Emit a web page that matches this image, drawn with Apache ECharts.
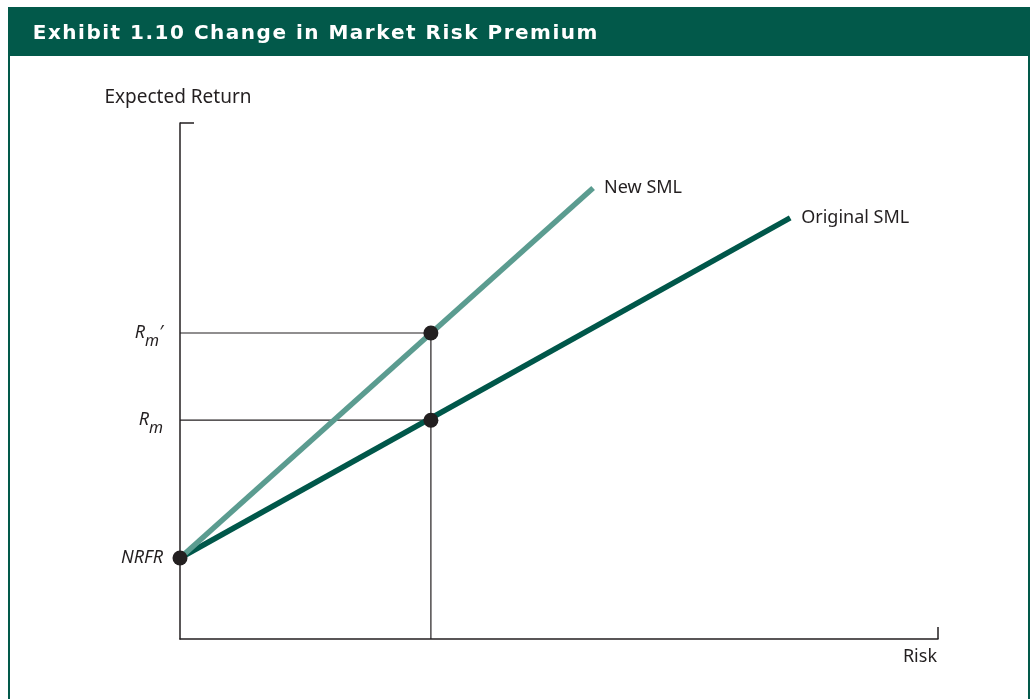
<!DOCTYPE html>
<html>
<head>
<meta charset="utf-8">
<title>Exhibit 1.10</title>
<script src="https://cdn.jsdelivr.net/npm/echarts@6/dist/echarts.min.js"></script>
<style>
    html,body{margin:0;padding:0;background:#fff;}
    #main{width:1030px;height:699px;}
</style>
</head>
<body>
<div id="main"></div>
<script>
// axis units: risk 0-100, return 0-100
var riskRange = [0, 100]
var returnRange = [0, 100]

var nrfr = 15.7        // NRFR
var marketRisk = 33.1  // market portfolio risk
var rm = 42.4          // Rm
var rmNew = 59.3       // Rm'

var originalSML = [[0, 15.7], [80.5, 81.6]]
var newSML = [[0, 15.7], [54.5, 87.4]]
var dotPoints = [[0, 15.7], [33.1, 42.4], [33.1, 59.3]]

var yLabelValues = [nrfr, rm, rmNew]

var titleText = 'Exhibit 1.10 Change in Market Risk Premium'

var colors = {
    frame: '#02594a',
    original: '#00574a',
    newLine: '#5b9c90',
    ink: '#231f20'
}

var myChart = echarts.init(document.getElementById('main'))

function yLabel(value){
    if(value == rmNew){
        return '{r|R}{m|m}{p|\u2032}'
    }else if(value == rm){
        return '{r|R}{m|m}'
    }else{
        return '{r|NRFR}'
    }
}

// echarts has no letter-spacing, so every letter is its own rich token
function spaced(text){
    return text.split('').map(function(ch){
        return '{s|' + ch + '}'
    }).join('')
}

var guideStyle = {color: colors.ink, width: 1.2}

var labelFont = {
    color: colors.ink,
    fontFamily: 'Noto Sans',
    fontSize: 18
}

var option = {
    animation: false,
    title: {
        text: spaced(titleText),
        left: 32,
        top: 24,
        padding: 0,
        textStyle: {
            color: '#ffffff',
            fontFamily: 'DejaVu Sans',
            fontWeight: 'bold',
            fontSize: 20,
            rich: {
                s: {
                    color: '#ffffff',
                    fontFamily: 'DejaVu Sans',
                    fontWeight: 'bold',
                    fontSize: 20,
                    padding: [0, 0.75, 0, 0.75]
                }
            }
        }
    },
    graphic: [
        {
            type: 'rect',
            shape: {x: 8, y: 8, width: 1022, height: 48},
            style: {fill: colors.frame},
            silent: true
        },
        {
            type: 'rect',
            shape: {x: 9, y: 8, width: 1020, height: 720},
            style: {fill: null, stroke: colors.frame, lineWidth: 2},
            silent: true
        }
    ],
    grid: {
        left: 180,
        top: 123,
        width: 758,
        height: 516
    },
    xAxis: {
        type: 'value',
        min: riskRange[0],
        max: riskRange[1],
        name: 'Risk',
        nameLocation: 'end',
        nameGap: -1,
        nameTextStyle: {
            color: colors.ink,
            fontFamily: 'Noto Sans',
            fontSize: 18,
            align: 'right',
            verticalAlign: 'top',
            padding: [9, 0, 0, 0]
        },
        axisLine: {show: true, lineStyle: {color: colors.ink, width: 1.5}},
        axisTick: {
            show: true,
            inside: true,
            length: 12,
            customValues: [riskRange[1]],
            lineStyle: {color: colors.ink, width: 1.5}
        },
        axisLabel: {show: false},
        splitLine: {show: false}
    },
    yAxis: {
        type: 'value',
        min: returnRange[0],
        max: returnRange[1],
        name: 'Expected Return',
        nameLocation: 'end',
        nameGap: 16,
        nameTextStyle: {
            color: colors.ink,
            fontFamily: 'Noto Sans',
            fontSize: 19,
            padding: [0, 4, 0, 0]
        },
        axisLine: {show: true, lineStyle: {color: colors.ink, width: 1.5}},
        axisTick: {
            show: true,
            inside: true,
            length: 14,
            customValues: [returnRange[1]],
            lineStyle: {color: colors.ink, width: 1.5}
        },
        axisLabel: {
            show: true,
            customValues: yLabelValues,
            margin: 17,
            formatter: yLabel,
            rich: {
                r: {fontFamily: 'Noto Sans', fontStyle: 'italic', fontSize: 18, color: colors.ink},
                m: {fontFamily: 'Noto Sans', fontStyle: 'italic', fontSize: 16, color: colors.ink, padding: [17, 0, 0, 0]},
                p: {fontFamily: 'Noto Sans', fontStyle: 'italic', fontSize: 18, color: colors.ink}
            }
        },
        splitLine: {show: false}
    },
    series: [
        {
            name: 'guideRm',
            type: 'line',
            data: [[riskRange[0], rm], [marketRisk, rm]],
            symbol: 'none',
            lineStyle: guideStyle,
            silent: true,
            z: 1
        },
        {
            name: 'guideRmNew',
            type: 'line',
            data: [[riskRange[0], rmNew], [marketRisk, rmNew]],
            symbol: 'none',
            lineStyle: guideStyle,
            silent: true,
            z: 1
        },
        {
            name: 'guideRisk',
            type: 'line',
            data: [[marketRisk, returnRange[0]], [marketRisk, rmNew]],
            symbol: 'none',
            lineStyle: guideStyle,
            silent: true,
            z: 1
        },
        {
            name: 'Original SML',
            type: 'line',
            data: originalSML,
            symbol: 'none',
            lineStyle: {color: colors.original, width: 5.5, cap: 'butt'},
            endLabel: Object.assign({show: true, formatter: '{a}', distance: 11}, labelFont),
            z: 2
        },
        {
            name: 'New SML',
            type: 'line',
            data: newSML,
            symbol: 'none',
            lineStyle: {color: colors.newLine, width: 5.5, cap: 'butt'},
            endLabel: Object.assign({show: true, formatter: '{a}', distance: 11}, labelFont),
            z: 3
        },
        {
            name: 'points',
            type: 'scatter',
            data: dotPoints,
            symbol: 'circle',
            symbolSize: 15,
            itemStyle: {color: colors.ink, opacity: 1},
            z: 5
        }
    ]
};
myChart.setOption(option);
</script>
</body>
</html>
